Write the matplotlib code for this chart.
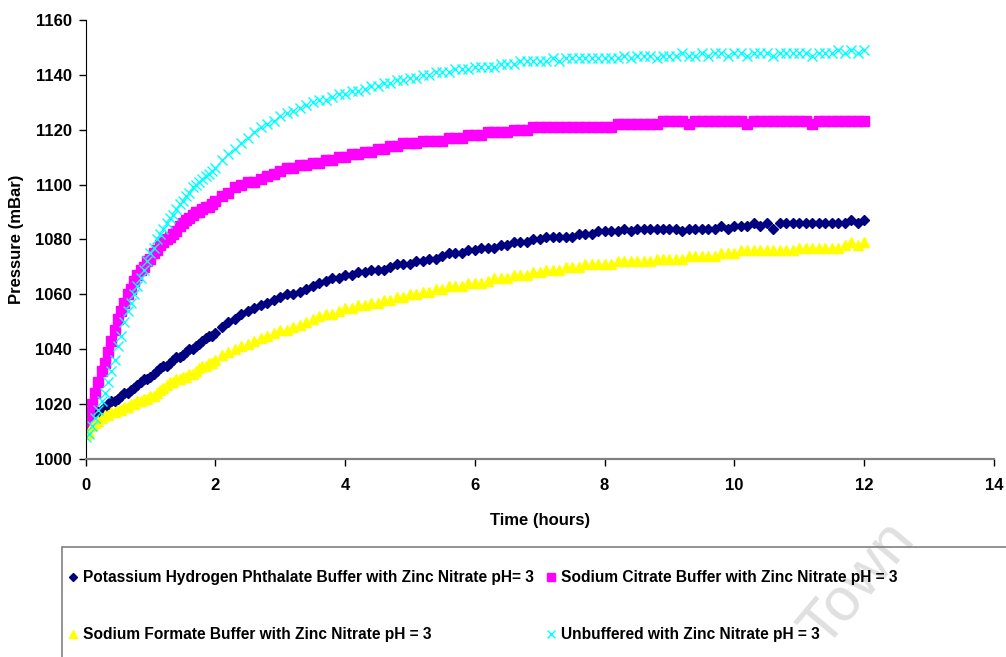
import matplotlib
matplotlib.use("Agg")
import matplotlib.pyplot as plt
from matplotlib.lines import Line2D
from matplotlib.patches import Rectangle

plt.rcParams["font.family"] = ["Liberation Sans", "DejaVu Sans"]
plt.rcParams["font.weight"] = "bold"

# time of each reading (hours): every 3 min for the first 2 h, then every 6 min
hours = [0.00, 0.05, 0.10, 0.15, 0.20, 0.25, 0.30, 0.35, 0.40, 0.45,
         0.50, 0.55, 0.60, 0.65, 0.70, 0.75, 0.80, 0.85, 0.90, 0.95,
         1.00, 1.05, 1.10, 1.15, 1.20, 1.25, 1.30, 1.35, 1.40, 1.45,
         1.50, 1.55, 1.60, 1.65, 1.70, 1.75, 1.80, 1.85, 1.90, 1.95,
         2.0, 2.1, 2.2, 2.3, 2.4, 2.5, 2.6, 2.7, 2.8, 2.9,
         3.0, 3.1, 3.2, 3.3, 3.4, 3.5, 3.6, 3.7, 3.8, 3.9,
         4.0, 4.1, 4.2, 4.3, 4.4, 4.5, 4.6, 4.7, 4.8, 4.9,
         5.0, 5.1, 5.2, 5.3, 5.4, 5.5, 5.6, 5.7, 5.8, 5.9,
         6.0, 6.1, 6.2, 6.3, 6.4, 6.5, 6.6, 6.7, 6.8, 6.9,
         7.0, 7.1, 7.2, 7.3, 7.4, 7.5, 7.6, 7.7, 7.8, 7.9,
         8.0, 8.1, 8.2, 8.3, 8.4, 8.5, 8.6, 8.7, 8.8, 8.9,
         9.0, 9.1, 9.2, 9.3, 9.4, 9.5, 9.6, 9.7, 9.8, 9.9,
         10.0, 10.1, 10.2, 10.3, 10.4, 10.5, 10.6, 10.7, 10.8, 10.9,
         11.0, 11.1, 11.2, 11.3, 11.4, 11.5, 11.6, 11.7, 11.8, 11.9,
         12.0]

# pressure (mBar)
khp = [1011, 1012, 1014, 1016, 1017, 1018, 1019, 1020, 1021, 1021,
       1022, 1023, 1024, 1024, 1025, 1026, 1027, 1028, 1029, 1029,
       1030, 1031, 1032, 1033, 1034, 1034, 1035, 1036, 1037, 1037,
       1038, 1039, 1040, 1040, 1041, 1042, 1043, 1044, 1045, 1045,
       1046, 1048, 1050, 1051, 1053, 1054, 1055, 1056, 1057, 1058,
       1059, 1060, 1060, 1061, 1062, 1063, 1064, 1065, 1066, 1066,
       1067, 1067, 1068, 1068, 1069, 1069, 1069, 1070, 1071, 1071,
       1071, 1072, 1072, 1073, 1073, 1074, 1075, 1075, 1075, 1076,
       1076, 1077, 1077, 1077, 1078, 1078, 1079, 1079, 1079, 1080,
       1080, 1081, 1081, 1081, 1081, 1081, 1082, 1082, 1082, 1083,
       1083, 1083, 1083, 1084, 1083, 1084, 1084, 1084, 1084, 1084,
       1084, 1084, 1083, 1084, 1084, 1084, 1084, 1084, 1085, 1084,
       1085, 1085, 1085, 1086, 1085, 1086, 1084, 1086, 1086, 1086,
       1086, 1086, 1086, 1086, 1086, 1086, 1086, 1086, 1087, 1086,
       1087]

citrate = [1012, 1016, 1020, 1024, 1028, 1032, 1035, 1039, 1043, 1047,
           1051, 1054, 1057, 1060, 1062, 1065, 1067, 1069, 1070, 1072,
           1073, 1075, 1076, 1078, 1079, 1080, 1081, 1082, 1083, 1085,
           1086, 1087, 1088, 1089, 1090, 1090, 1091, 1092, 1092, 1093,
           1094, 1096, 1097, 1099, 1100, 1101, 1101, 1102, 1103, 1104,
           1105, 1106, 1106, 1107, 1107, 1108, 1108, 1109, 1109, 1110,
           1110, 1111, 1111, 1112, 1112, 1113, 1113, 1114, 1114, 1115,
           1115, 1115, 1116, 1116, 1116, 1116, 1117, 1117, 1117, 1118,
           1118, 1118, 1119, 1119, 1119, 1119, 1120, 1120, 1120, 1121,
           1121, 1121, 1121, 1121, 1121, 1121, 1121, 1121, 1121, 1121,
           1121, 1121, 1122, 1122, 1122, 1122, 1122, 1122, 1122, 1123,
           1123, 1123, 1123, 1122, 1123, 1123, 1123, 1123, 1123, 1123,
           1123, 1123, 1122, 1123, 1123, 1123, 1123, 1123, 1123, 1123,
           1123, 1123, 1122, 1123, 1123, 1123, 1123, 1123, 1123, 1123,
           1123]

formate = [1009, 1010, 1012, 1013, 1014, 1015, 1016, 1016, 1017, 1017,
           1018, 1018, 1019, 1019, 1020, 1020, 1021, 1021, 1022, 1022,
           1023, 1023, 1024, 1025, 1026, 1027, 1028, 1028, 1029, 1029,
           1030, 1030, 1031, 1031, 1032, 1033, 1034, 1034, 1035, 1035,
           1036, 1038, 1039, 1040, 1041, 1042, 1043, 1044, 1045, 1046,
           1047, 1047, 1048, 1049, 1050, 1051, 1052, 1053, 1053, 1054,
           1055, 1055, 1056, 1056, 1057, 1057, 1058, 1058, 1059, 1059,
           1060, 1060, 1061, 1061, 1062, 1062, 1063, 1063, 1063, 1064,
           1064, 1064, 1065, 1066, 1066, 1066, 1067, 1067, 1067, 1068,
           1068, 1069, 1069, 1069, 1070, 1070, 1070, 1071, 1071, 1071,
           1071, 1071, 1072, 1072, 1072, 1072, 1072, 1072, 1073, 1073,
           1073, 1073, 1073, 1074, 1074, 1074, 1074, 1074, 1075, 1075,
           1075, 1076, 1076, 1076, 1076, 1076, 1076, 1076, 1076, 1076,
           1077, 1077, 1077, 1077, 1077, 1077, 1077, 1078, 1079, 1078,
           1079]

unbuffered = [1008, 1009, 1012, 1015, 1018, 1021, 1024, 1028, 1032, 1036,
              1041, 1045, 1050, 1054, 1057, 1060, 1063, 1066, 1069, 1072,
              1075, 1077, 1080, 1082, 1084, 1086, 1088, 1089, 1091, 1093,
              1094, 1096, 1097, 1099, 1100, 1101, 1102, 1103, 1104, 1105,
              1106, 1109, 1111, 1113, 1115, 1117, 1119, 1121, 1122, 1123,
              1125, 1126, 1127, 1128, 1129, 1130, 1131, 1131, 1132, 1133,
              1133, 1134, 1134, 1135, 1136, 1136, 1137, 1137, 1138, 1138,
              1139, 1139, 1140, 1140, 1141, 1141, 1141, 1142, 1142, 1142,
              1143, 1143, 1143, 1143, 1144, 1144, 1144, 1145, 1145, 1145,
              1145, 1145, 1146, 1145, 1146, 1146, 1146, 1146, 1146, 1146,
              1146, 1146, 1146, 1147, 1146, 1147, 1147, 1147, 1146, 1147,
              1147, 1147, 1148, 1147, 1147, 1148, 1147, 1148, 1148, 1147,
              1148, 1148, 1147, 1148, 1148, 1148, 1147, 1148, 1148, 1148,
              1148, 1148, 1147, 1148, 1148, 1148, 1149, 1148, 1149, 1148,
              1149]

labels = ["Potassium Hydrogen Phthalate Buffer with Zinc Nitrate pH= 3",
          "Sodium Citrate Buffer with Zinc Nitrate pH = 3",
          "Sodium Formate Buffer with Zinc Nitrate pH = 3",
          "Unbuffered with Zinc Nitrate pH = 3"]

fig = plt.figure(figsize=(10.06, 6.57), dpi=100)
ax = fig.add_axes([0.085, 0.3014, 0.903, 0.6682])

ax.plot(hours, khp, ls="none", marker="D", ms=5.5, color="#000080", mec="#000080")
ax.plot(hours, citrate, ls="none", marker="s", ms=7.5, color="#FF00FF", mec="#FF00FF")
ax.plot(hours, formate, ls="none", marker="^", ms=7, color="#FFFF00", mec="#FFFF00")
ax.plot(hours, unbuffered, ls="none", marker="x", ms=6.5, mew=1, color="#00FFFF")

ax.set_xlim(0, 14)
ax.set_ylim(1000, 1160)
ax.set_xticks(range(0, 15, 2))
ax.set_yticks(range(1000, 1161, 20))
ax.spines["top"].set_visible(False)
ax.spines["right"].set_visible(False)
ax.spines["left"].set_color("black")
ax.spines["bottom"].set_color("#808080")
ax.spines["bottom"].set_linewidth(1.6)
ax.tick_params(axis="y", direction="out", length=5, width=1, labelsize=12, pad=5)
ax.tick_params(axis="x", direction="out", length=5, width=1, color="black",
               labelsize=12, pad=9)
for lab in ax.get_xticklabels() + ax.get_yticklabels():
    lab.set_fontweight("bold")

ax.set_xlabel("Time (hours)", fontsize=12, fontweight="bold", labelpad=14)
ax.set_ylabel("Pressure (mBar)", fontsize=12, fontweight="bold", labelpad=8)

# legend box, runs off the right and bottom edge like the original
fig.patches.append(Rectangle((62 / 1006, -0.05), 1.0, 0.05 + 110 / 657,
                             transform=fig.transFigure, fill=False,
                             edgecolor="#808080", lw=1.2))

h_khp = Line2D([], [], ls="none", marker="D", ms=4.5, color="#000080")
h_cit = Line2D([], [], ls="none", marker="s", ms=6, color="#FF00FF")
h_for = Line2D([], [], ls="none", marker="^", ms=6, color="#FFFF00")
h_unb = Line2D([], [], ls="none", marker="x", ms=5.5, mew=1, color="#00FFFF")

leg_kw = dict(loc="center left", frameon=False, fontsize=11.2, handlelength=0.7,
              handletextpad=0.25, labelspacing=2.7, borderpad=0, borderaxespad=0)
leg1 = fig.legend([h_khp, h_for], [labels[0], labels[2]],
                  bbox_to_anchor=(68 / 1006, 1 - 606 / 657), **leg_kw)
leg2 = fig.legend([h_cit, h_unb], [labels[1], labels[3]],
                  bbox_to_anchor=(546 / 1006, 1 - 606 / 657), **leg_kw)
for leg in (leg1, leg2):
    for t in leg.get_texts():
        t.set_fontweight("bold")

# faint watermark
fig.text(858 / 1006, 1 - 584 / 657, "Town", fontsize=44, color="#e0e0e0",
         rotation=50, ha="center", va="center", fontweight="normal", zorder=0)

fig.savefig("out.png", dpi=100)
